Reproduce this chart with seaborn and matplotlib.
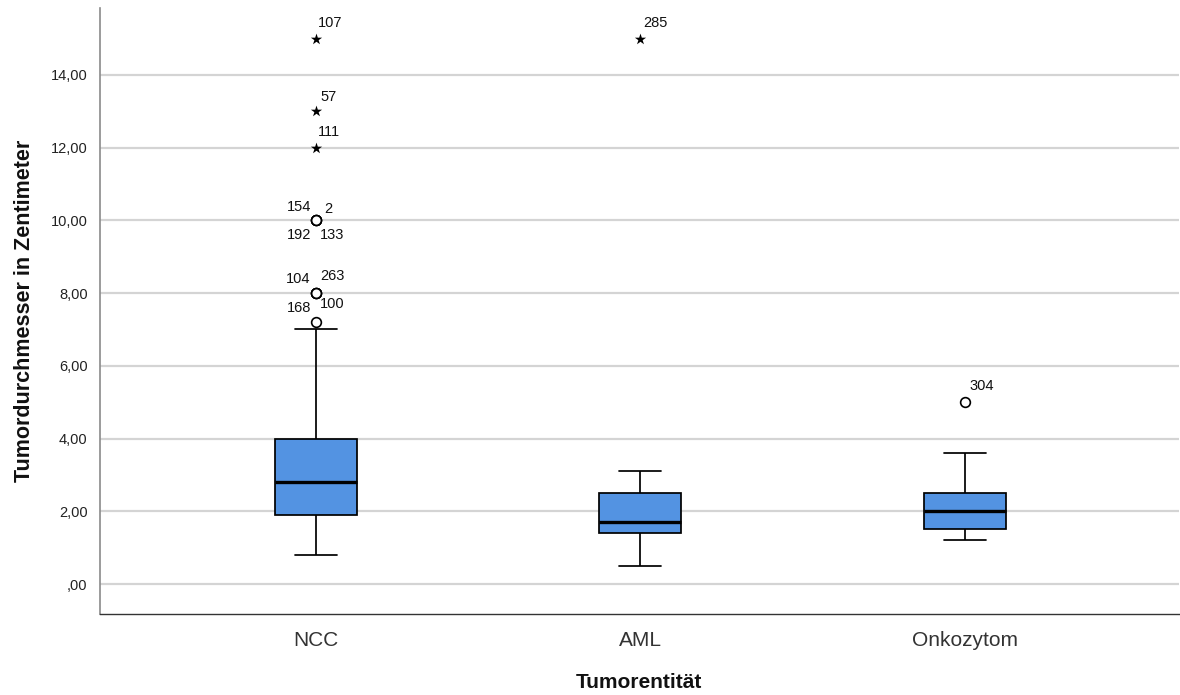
import matplotlib
matplotlib.use("Agg")
import matplotlib.pyplot as plt
import seaborn as sns
import pandas as pd

# ---- data ----
categories = ["NCC", "AML", "Onkozytom"]
whisker_low = [0.8, 0.5, 1.2]
quartile_1 = [1.9, 1.4, 1.5]
medians = [2.8, 1.7, 2.0]
quartile_3 = [4.0, 2.5, 2.5]
whisker_high = [7.0, 3.1, 3.6]

# mild outliers (circles)
outlier_cat = ["NCC", "NCC", "NCC", "NCC", "NCC", "NCC", "NCC", "NCC", "NCC", "Onkozytom"]
outlier_val = [10.0, 10.0, 10.0, 10.0, 8.0, 8.0, 8.0, 8.0, 7.2, 5.0]
# extreme values (stars)
extreme_cat = ["NCC", "NCC", "NCC", "AML"]
extreme_val = [15.0, 13.0, 12.0, 15.0]

# case labels: category, value, text, pixel offset x, pixel offset y, alignment
label_cat = ["NCC", "NCC", "NCC", "AML", "NCC", "NCC", "NCC", "NCC", "NCC", "NCC", "NCC", "NCC", "Onkozytom"]
label_val = [15.0, 13.0, 12.0, 15.0, 10.0, 10.0, 10.0, 10.0, 8.0, 8.0, 8.0, 8.0, 5.0]
label_txt = ["107", "57", "111", "285", "154", "2", "192", "133", "104", "263", "168", "100", "304"]
label_dx = [2, 5, 2, 3, -5, 8, -5, 4, -5, 4, -5, 4, 5]
label_dy = [16, 14, 16, 16, 13, 11, -15, -15, 14, 17, -15, -11, 16]
label_ha = ["left", "left", "left", "left", "right", "left", "right", "left", "right", "left", "right", "left", "left"]

y_ticks = [0, 2, 4, 6, 8, 10, 12, 14]

# ---- build tables ----
rows = []
for c, lo, a, m, b, hi in zip(categories, whisker_low, quartile_1, medians, quartile_3, whisker_high):
    for v in (lo, a, m, b, hi):
        rows.append({"Tumorentität": c, "Wert": v})
box_df = pd.DataFrame(rows)
out_df = pd.DataFrame({"Tumorentität": outlier_cat, "Wert": outlier_val})
ext_df = pd.DataFrame({"Tumorentität": extreme_cat, "Wert": extreme_val})

sns.set_theme(style="white")
plt.rcParams["font.family"] = ["Liberation Sans", "DejaVu Sans"]

fig = plt.figure(figsize=(11.8, 6.95), dpi=100)
ax = fig.add_axes([100 / 1180, 1 - 614 / 695, 1 - 100 / 1180 - 0.001, (614 - 8) / 695])

box_color = "#5393E2"
sns.boxplot(data=box_df, x="Tumorentität", y="Wert", order=categories, whis=(0, 100),
            width=0.252, color=box_color, saturation=1, linecolor="black", linewidth=1.25,
            showfliers=False, ax=ax,
            medianprops={"linewidth": 2.4, "color": "black"},
            capwidths=0.13, zorder=3)

sns.stripplot(data=out_df, x="Tumorentität", y="Wert", order=categories, jitter=False,
              marker="o", size=7, color="white", edgecolor="black", linewidth=1.2,
              ax=ax, zorder=4)
sns.stripplot(data=ext_df, x="Tumorentität", y="Wert", order=categories, jitter=False,
              marker="*", size=8.5, color="black", linewidth=0, ax=ax, zorder=4)

for c, v, t, dx, dy, ha in zip(label_cat, label_val, label_txt, label_dx, label_dy, label_ha):
    ax.annotate(t, xy=(categories.index(c), v), xytext=(dx, dy), textcoords="offset pixels",
                ha=ha, va="center", fontsize=10.5, color="#111111")

ax.set_xlim(-0.665, 2.66)
ax.set_ylim(-0.825, 15.84)
ax.set_yticks(y_ticks)
ax.set_yticklabels([("%.2f" % v).replace(".", ",").lstrip("0") if v == 0 else ("%.2f" % v).replace(".", ",") for v in y_ticks])
ax.yaxis.grid(True, color="#d4d4d4", linewidth=1.6, zorder=0)
ax.xaxis.grid(False)
ax.set_axisbelow(True)

for s in ("top", "right"):
    ax.spines[s].set_visible(False)
ax.spines["left"].set_color("#8a8a8a")
ax.spines["left"].set_linewidth(1.2)
ax.spines["bottom"].set_color("#333333")
ax.spines["bottom"].set_linewidth(1.0)

ax.tick_params(axis="y", length=0, pad=9, labelsize=10.5, labelcolor="#222222")
ax.tick_params(axis="x", length=0, pad=12, labelsize=15, labelcolor="#333333")

ax.set_xlabel("Tumorentität", fontsize=15, fontweight="bold", labelpad=17, color="#111111")
ax.set_ylabel("Tumordurchmesser in Zentimeter", fontsize=15.5, fontweight="bold", labelpad=11, color="#111111")

fig.savefig("out.png", dpi=100)
